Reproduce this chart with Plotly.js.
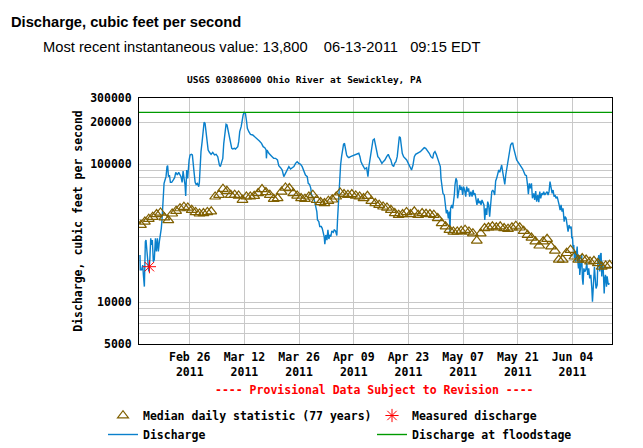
<!DOCTYPE html>
<html>
<head>
<meta charset="utf-8">
<script src="https://cdn.plot.ly/plotly-3.0.1.min.js"></script>
<style>html,body{margin:0;padding:0;background:#fff;}#chart{width:643px;height:448px;}</style>
</head>
<body>
<div id="chart"></div>
<script>
// ---------- data ----------
const headerTitle = 'Discharge, cubic feet per second';
const headerRecent = 'Most recent instantaneous value: 13,800\u00A0\u00A0\u00A0 06-13-2011\u00A0\u00A0 09:15 EDT';
const chartTitle = 'USGS 03086000 Ohio River at Sewickley, PA';
const provisionalNote = '---- Provisional Data Subject to Revision ----';
const yAxisTitle = 'Discharge, cubic feet per second';

const xRange = ['2011-02-13 00:00', '2011-06-14 03:00'];
const xTick0 = '2011-02-26';
const xTickStepDays = 14;

const yTickVals = [5000, 10000, 100000, 200000, 300000];
const yTickText = ['5000', '10000', '100000', '200000', '300000'];
const yMinorVals = [6000, 7000, 8000, 9000, 20000, 30000, 40000, 50000, 60000, 70000, 80000, 90000];
const yRange = [5000, 300000];

const floodstageCfs = 236000;

// Discharge (15-min record, sampled): hours after dischargeStart, cfs
const dischargeStart = '2011-02-13T00:00:00Z';
const dischargeHours = [
6,8,16,23,27,33,39,43,49,53,60,66,72,78,82,88,94,101,107,113,119,125,131,137,142,146,150,154,160,166,172,176,181,187,193,201,211,219,226,236,244,252,258,265,271,277,283,287,293,299,304,308,314,322,328,332,338,345,351,359,367,371,375,381,388,394,400,406,412,418,425,433,443,453,464,474,484,494,500,509,515,521,529,535,541,548,554,562,570,576,587,
593,607,613,619,628,634,640,646,654,660,666,675,685,699,712,726,740,753,763,773,781,783,787,798,808,818,828,839,851,859,870,880,890,900,911,921,931,941,952,962,972,982,993,1003,1013,1023,1034,1040,1048,1056,1060,1068,1077,1085,1093,1097,1105,1111,1120,1126,1132,1138,1142,1148,1155,1161,1167,1173,1179,1185,
1194,1200,1208,1216,1220,1226,1232,1239,1245,1251,1257,1263,1269,1276,1282,1290,1300,1310,1321,1331,1341,1351,1358,1364,1372,1380,1388,1399,1407,1413,1419,1425,1431,1438,1446,1452,1460,1468,1477,1485,1493,1501,1511,1522,1532,1540,1548,1556,1565,1571,1579,1587,1593,1600,1606,1612,1618,1626,1634,1645,1655,1665,1675,1684,1692,1700,1708,1721,1729,1737,1745,1753,1762,1770,
1784,1794,1805,1811,1819,1827,1835,1844,1852,1856,1862,1868,1876,1883,1889,1895,1901,1907,1911,1915,1922,1928,1934,1938,1942,1948,1954,1958,1965,1971,1977,1983,1989,1995,2001,2008,2014,2020,2026,2032,2040,2047,2053,2059,2065,2071,2077,2084,2090,2096,2102,2108,2114,2120,2125,2131,2137,2143,2149,2155,2161,2168,2174,2180,2186,2192,2198,2205,2211,2217,2223,2229,2235,2241,2248,2254,2260,2266,2272,2278,2284,2291,2297,2303,2309,2315,2321,2328,2336,2344,2352,2358,
2373,2381,2389,2393,2399,2405,2412,2418,2426,2432,2438,2444,2451,2457,2463,2469,2475,2481,2487,2494,2500,2508,2514,2520,2526,2533,2539,2545,2551,2557,2563,2570,2576,2582,2588,2594,2600,2606,2613,2619,2625,2631,2637,2643,2649,2656,2660,2664,2668,2672,2676,2680,2684,2688,2693,2697,2701,2705,2709,2713,2717,2721,2725,2729,2734,2740,2746,2752,2758,2764,2770,2777,2783,2787,2791,2795,2799,2803,2809,2816,2820,2826,2832,2836,2840,2844,2848,2853,2859,2863,2867,2873,2877,2883,2886,2889.25
];
const dischargeCfs = [
22000,17200,17200,18600,15800,13000,27500,28200,23300,19700,16700,19700,29000,26000,28200,19700,20300,29000,23300,29000,23300,27500,29900,34300,40500,53500,53500,72500,76700,81000,95700,97300,81000,83300,73700,73700,76700,79700,87100,83300,87100,84200,81000,73700,89000,78800,70500,58700,90500,78800,95700,106900,116200,117500,116200,106900,88100,73700,71300,72500,68600,73700,101100,122800,145100,181100,200000,196800,171300,145100,126300,121500,117500,121500,116200,117500,113000,98400,95700,104000,109900,141100,171300,193600,191400,171300,163900,137200,129800,128400,129800,
128400,133500,145100,171300,186200,208000,226000,236300,232400,208000,181100,171300,163900,162100,157600,153300,146700,141100,133500,131300,126300,109900,126300,119500,115000,113000,109900,109900,106900,97300,94100,90500,81000,85600,93100,95700,92000,94100,95700,101100,104000,101100,99400,95700,88100,83300,81000,72500,71300,66700,59700,58100,55000,49200,45300,39400,38300,35300,35300,34300,32400,29900,26300,30700,28200,33400,28700,30700,29900,32800,
32100,33400,32800,30400,39400,56500,81000,98400,113000,122800,138800,141100,126300,116200,113000,111200,113000,114300,116200,116200,117500,119500,113000,104000,99400,95700,92000,94100,81000,95700,106900,122800,141100,149100,151600,141100,122800,113000,109900,104000,101100,104000,106900,113000,117500,111200,106900,98400,95700,101100,104000,113000,137200,157600,155000,137200,119500,113000,109900,106900,101100,95700,90500,98400,113000,117500,119500,121500,122800,126300,129800,131300,129800,126300,
119500,113000,109900,119500,122800,117500,111200,104000,95700,78800,70500,61400,59700,50600,44000,46500,40500,45300,32400,47800,50600,47800,53500,59700,70500,78800,75400,56500,63100,70500,64900,68600,59700,68600,64900,58100,68600,63100,66700,58100,63100,58100,64900,59700,61400,55000,50600,56500,52000,54100,50600,55000,52900,50600,39400,47800,42800,53500,50600,41600,50600,63100,64900,63100,59700,75400,78800,83300,90500,87100,93100,98400,88100,81000,71300,83300,93100,106900,119500,129800,137200,141100,141100,129800,119500,116200,106900,104000,101100,98400,94100,92000,
83300,82400,68600,60400,72500,66700,72500,56500,61400,55000,63800,53500,59700,52900,63100,56500,61400,59700,63100,59700,61400,63100,59700,63100,74600,68600,61400,64900,58100,59700,56500,58100,52000,50600,46500,50600,45300,47800,38300,41600,40500,34300,32400,36200,34300,35300,29000,29900,24600,26000,20800,23300,19700,23300,25300,19700,17600,22000,15800,17600,20800,22000,14900,13400,17600,16700,17200,19200,15800,17600,14900,15800,12600,10100,12300,15800,18100,15400,12600,13400,19700,22000,16700,22300,22700,15400,19700,17600,11600,14900,15800,13000,15400,13700,13400,13800
];

// Median daily statistic (77 years), one value per day from medianStart
const medianStart = '2011-02-13T12:00:00Z';
const medianCfs = [
36200,38300,40100,41400,43300,44500,41000,39200,43800,45800,47800,48900,48300,46500,44800,43800,44000,44800,45300,58100,
59700,66000,63800,59700,59700,59000,55000,58100,58100,58700,61400,65600,62400,59700,55900,56500,63100,67400,66700,61400,
59000,56500,55900,58100,59700,55000,52900,52000,54100,55300,58100,62100,60400,59700,60400,59000,58100,56500,58700,54100,
52000,50600,49200,48300,46500,44000,42800,43300,44800,43300,45300,42800,44000,43500,43300,42800,40500,37300,35300,33400,
32400,32400,32800,33400,32400,31500,27900,31500,34300,34700,35300,34700,35300,34300,33900,34700,35700,34700,32800,30700,
29300,27500,25700,27500,28700,25300,23600,20300,20300,22700,23900,21400,20300,20800,20300,19700,19900,19200,18100,18400,
18600
];

// Measured discharge (field measurement)
const measuredTime = ['2011-02-15 16:00'];
const measuredCfs = [18100];

// ---------- build ----------
const HOUR = 3600e3, DAY = 86400e3;
function isoLocal(ms) { return new Date(ms).toISOString().replace('T', ' ').slice(0, 19); }
const t0 = Date.parse(dischargeStart);
const dischargeTime = dischargeHours.map(h => isoLocal(t0 + h * HOUR));
const m0 = Date.parse(medianStart);
const medianTime = medianCfs.map((_, i) => isoLocal(m0 + i * DAY));

const W = 643, H = 448;
const M = {l: 139, r: 31, t: 98, b: 104, autoexpand: false};
const PW = W - M.l - M.r, PH = H - M.t - M.b;
const px2x = px => (px - M.l) / PW;
const px2y = py => (H - M.b - py) / PH;

const mono = 'DejaVu Sans Mono, Liberation Mono, monospace';
const BLUE = '#0a80cc', BROWN = '#806000', GREEN = '#009a00', RED = '#ff0000', GRID = '#c8c8c8';

const traces = [
  {
    x: dischargeTime, y: dischargeCfs, type: 'scatter', mode: 'lines',
    name: 'Discharge', legendrank: 3,
    line: {color: BLUE, width: 1.4}
  },
  {
    x: medianTime, y: medianCfs, type: 'scatter', mode: 'markers',
    name: 'Median daily statistic (77 years)', legendrank: 1,
    marker: {symbol: 'triangle-up-open', size: 9.5, color: BROWN, line: {color: BROWN, width: 1.2}}
  },
  {
    x: measuredTime, y: measuredCfs, type: 'scatter', mode: 'markers',
    name: 'Measured discharge', legendrank: 2,
    marker: {symbol: 'asterisk-open', size: 11, color: RED, line: {color: RED, width: 1}}
  },
  {
    x: xRange, y: [floodstageCfs, floodstageCfs], type: 'scatter', mode: 'lines',
    name: 'Discharge at floodstage', legendrank: 4,
    line: {color: GREEN, width: 1.4}
  }
];

const layout = {
  width: W, height: H,
  margin: M,
  paper_bgcolor: '#fff', plot_bgcolor: '#fff',
  showlegend: true,
  legend: {
    orientation: 'h', x: px2x(103), xanchor: 'left', y: px2y(401), yanchor: 'top',
    entrywidth: 224, entrywidthmode: 'pixels',
    font: {family: mono, size: 11.5, color: '#000', weight: 'bold'},
    bgcolor: 'rgba(0,0,0,0)', borderwidth: 0, traceorder: 'normal'
  },
  xaxis: {
    type: 'date', range: xRange, tickmode: 'linear', tick0: xTick0, dtick: xTickStepDays * DAY,
    tickformat: '%b %d<br>%Y', ticks: '', showgrid: true, gridcolor: GRID, gridwidth: 1,
    showline: true, linecolor: '#000', linewidth: 1, mirror: true, zeroline: false, automargin: false,
    ticklabelstandoff: 2,
    tickfont: {family: mono, size: 11.5, color: '#000', weight: 'bold'}
  },
  yaxis: {
    type: 'log', range: yRange.map(Math.log10), tickmode: 'array', tickvals: yTickVals, ticktext: yTickText,
    ticks: '', showgrid: true, gridcolor: GRID, gridwidth: 1,
    minor: {tickmode: 'array', tickvals: yMinorVals, showgrid: true, gridcolor: GRID, gridwidth: 1, ticks: ''},
    showline: true, linecolor: '#000', linewidth: 1, mirror: true, zeroline: false, automargin: false,
    ticklabelstandoff: 4,
    tickfont: {family: mono, size: 11.5, color: '#000', weight: 'bold'},
    title: {text: yAxisTitle, standoff: 5, font: {family: mono, size: 11.5, color: '#000', weight: 'bold'}}
  },
  annotations: [
    {text: headerTitle, xref: 'paper', yref: 'paper', x: px2x(9), y: px2y(22), xanchor: 'left', yanchor: 'middle', showarrow: false,
     font: {family: 'Liberation Sans, Arial, sans-serif', size: 14.7, color: '#000', weight: 'bold'}},
    {text: headerRecent, xref: 'paper', yref: 'paper', x: px2x(41), y: px2y(47), xanchor: 'left', yanchor: 'middle', showarrow: false,
     font: {family: 'Liberation Sans, Arial, sans-serif', size: 14.7, color: '#000'}},
    {text: chartTitle, xref: 'paper', yref: 'paper', x: px2x(304.5), y: px2y(80), xanchor: 'center', yanchor: 'middle', showarrow: false,
     font: {family: mono, size: 9.5, color: '#000', weight: 'bold'}},
    {text: provisionalNote, xref: 'paper', yref: 'paper', x: px2x(374.5), y: px2y(390), xanchor: 'center', yanchor: 'middle', showarrow: false,
     font: {family: mono, size: 11.5, color: RED, weight: 'bold'}}
  ]
};

Plotly.newPlot('chart', traces, layout, {staticPlot: true, displayModeBar: false});
</script>
</body>
</html>
